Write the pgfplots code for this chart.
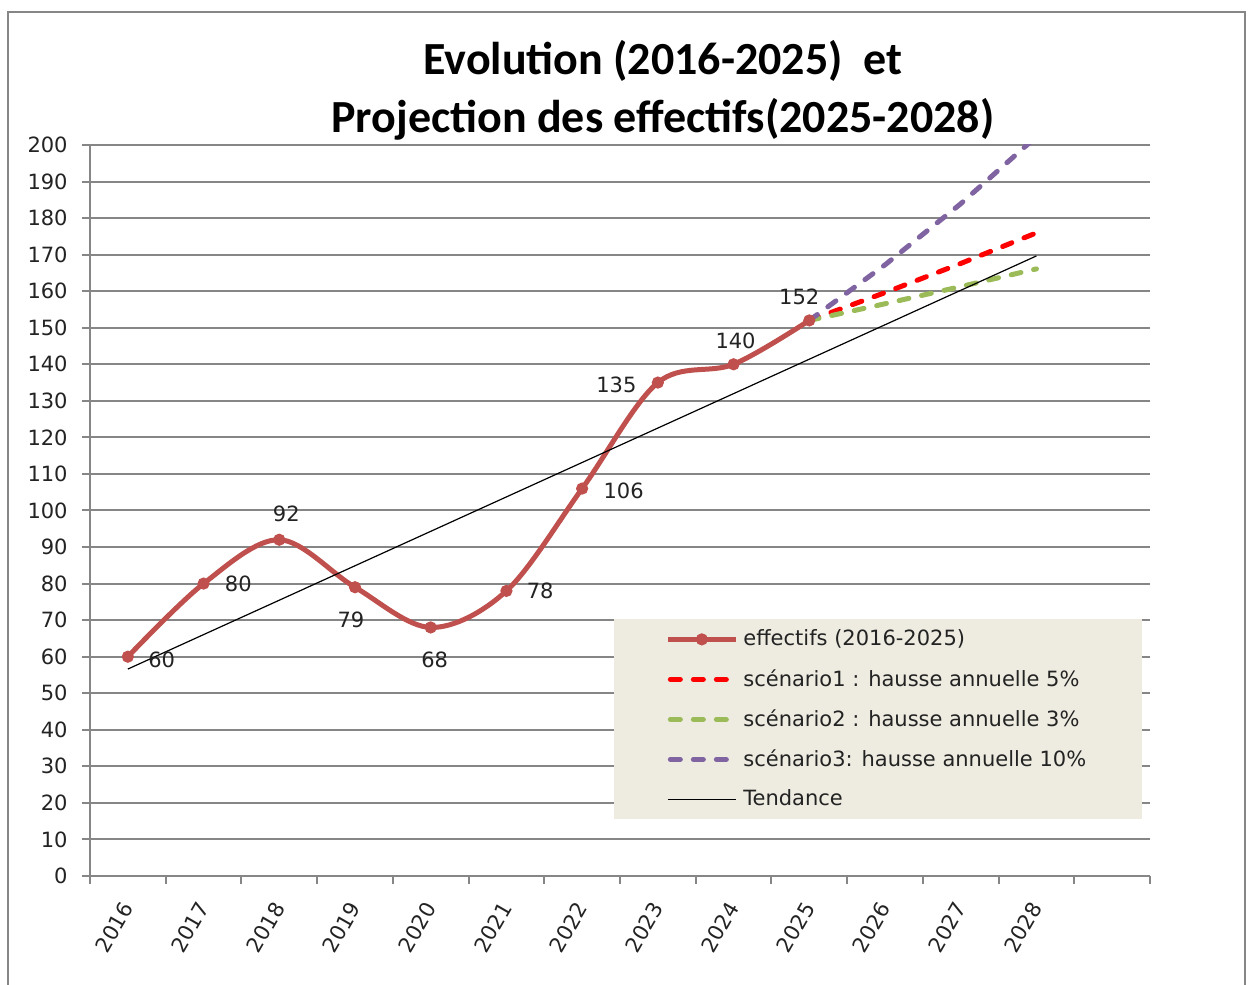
\documentclass[border=0pt]{standalone}
\usepackage{fontspec}
\usepackage{pgfplots}
\pgfplotsset{compat=1.18}
\setmainfont{DejaVu Sans}
\newfontfamily\titlefont{Carlito}
\definecolor{gridgray}{RGB}{134,134,134}
\definecolor{effred}{RGB}{192,80,77}
\definecolor{scgreen}{RGB}{155,187,89}
\definecolor{scpurple}{RGB}{128,100,162}
\definecolor{legbg}{RGB}{238,236,225}
\definecolor{txt}{RGB}{35,35,35}
\newcommand{\lblfont}{\fontsize{10.5}{12.6}\selectfont}
\pgfplotsset{dashleg/.style={legend image code/.code={\draw[##1] (1.25pt,0pt) -- (32.75pt,0pt);}}}
\begin{document}
\begin{tikzpicture}
\useasboundingbox (0pt,0pt) rectangle (625pt,492.5pt);
\fill[white] (0pt,0pt) rectangle (625pt,492.5pt);
\draw[gridgray, line width=1pt] (4pt,-2pt) -- (4pt,486.5pt) -- (622.5pt,486.5pt) -- (622.5pt,-2pt);
\node[anchor=base, font=\titlefont\bfseries\fontsize{23}{28}\selectfont] at (331.5pt,455pt) {Evolution (2016-2025)\ \ et};
\node[anchor=base, font=\titlefont\bfseries\fontsize{23}{28}\selectfont] at (331.5pt,426pt) {Projection des effectifs(2025-2028)};
\begin{axis}[
  at={(45pt,54.5pt)}, anchor=south west,
  scale only axis, width=530pt, height=365.5pt,
  xmin=-0.5, xmax=13.5, ymin=0, ymax=200,
  axis lines*=left,
  axis line style={gridgray, line width=1pt},
  ytick={0,10,...,200},
  ymajorgrids, grid style={gridgray, line width=1pt},
  tick align=outside, major tick length=4pt,
  tick style={gridgray, line width=1pt},
  xtick={-0.5,0.5,...,13.5}, xticklabels={},
  extra x ticks={0,1,...,12},
  extra x tick labels={2016,2017,2018,2019,2020,2021,2022,2023,2024,2025,2026,2027,2028},
  extra x tick style={major tick length=0pt, grid=none,
     xticklabel style={yshift=-14pt, rotate=60, anchor=east, inner sep=0pt}},
  /pgf/number format/assume math mode=true,
  yticklabel style={xshift=-7pt, anchor=east, inner sep=0pt, font=\lblfont, text=txt},
  xticklabel style={font=\lblfont, text=txt},
  legend style={at={(0.4943,0.3516)}, anchor=north west, fill=legbg, draw=none,
     inner xsep=25.5pt, inner ysep=0pt, font=\lblfont, text=txt,
     nodes={inner xsep=2.5pt, inner ysep=0pt, minimum height=20pt},
     row sep=0pt},
  legend cell align=left,
  legend image code/.code={\draw[mark repeat=2,mark phase=2,#1] plot coordinates {(0pt,0pt) (17pt,0pt) (34pt,0pt)};},
]
\addplot[effred, line width=2.5pt, smooth, tension=0.55, mark=*, mark size=2.8pt,
  mark options={solid, fill=effred, line width=0.5pt}] coordinates {
  (0,60) (1,80) (2,92) (3,79) (4,68) (5,78) (6,106) (7,135) (8,140) (9,152)};
\addlegendentry{effectifs (2016-2025)}
\addplot[red, line width=2.5pt, dash pattern=on 5pt off 6.5pt, line cap=round, dashleg] coordinates {
  (9,152) (10,159.6) (11,167.58) (12,175.96)};
\addlegendentry{scénario1 : hausse annuelle 5\%}
\addplot[scgreen, line width=2.5pt, dash pattern=on 5pt off 6.5pt, line cap=round, dashleg] coordinates {
  (9,152) (10,156.56) (11,161.26) (12,166.10)};
\addlegendentry{scénario2 : hausse annuelle 3\%}
\addplot[scpurple, line width=2.5pt, dash pattern=on 5pt off 6.5pt, line cap=round, dashleg] coordinates {
  (9,152) (10,167.2) (11,183.92) (12,202.31)};
\addlegendentry{scénario3: hausse annuelle 10\%}
\addplot[black, line width=0.6pt] coordinates {(0,56.62) (12,169.65)};
\addlegendentry{Tendance}
\addplot[forget plot, draw=none, mark=none, nodes near coords, point meta=explicit symbolic,
  visualization depends on={value \thisrow{anc} \as \myanc},
  visualization depends on={value \thisrow{dx} \as \mydx},
  visualization depends on={value \thisrow{dy} \as \mydy},
  nodes near coords style={anchor=\myanc, xshift=\mydx pt, yshift=\mydy pt, inner sep=0pt, font=\lblfont, text=txt}]
  table[x=x, y=y, meta=lab] {
x y lab anc dx dy
0 60 60 west 10 -1.5
1 80 80 west 10.5 0
2 92 92 south 3.5 9
3 79 79 north -2 -12
4 68 68 north 2 -12
5 78 78 west 10 0
6 106 106 west 10.5 -1
7 135 135 east -10.5 -1
8 140 140 south 1 7.5
9 152 152 south -5 7.5
};
\end{axis}
\end{tikzpicture}
\end{document}
